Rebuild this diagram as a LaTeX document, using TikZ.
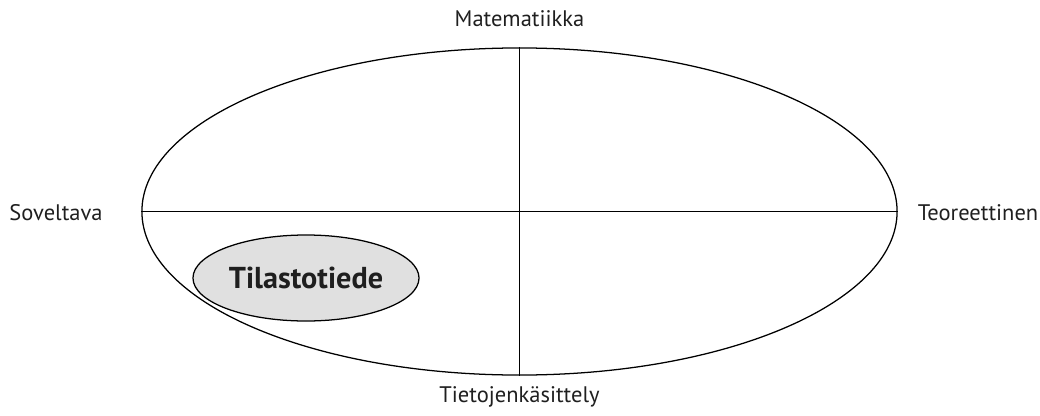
\documentclass[tikz,border=0pt]{standalone}
\usepackage{fontspec}
\setmainfont{PT Sans}
\usetikzlibrary{shapes.geometric}
\begin{document}
\begin{tikzpicture}[x=0.025cm,y=-0.025cm,every node/.style={font=\fontsize{16}{19}\selectfont,text=black!88},
    ala/.style={ellipse,draw,line width=0.9pt,inner sep=0pt}]
    \useasboundingbox (0,0) rectangle (1040,415);
    \node[ala,minimum width=18.875cm,minimum height=8.175cm] (kentta) at (519.5,211.5) {};
    \draw[line width=0.9pt] (kentta.west) -- (kentta.east);
    \draw[line width=0.9pt] (kentta.north) -- (kentta.south);
    \node[ala,fill=black!12,minimum width=5.65cm,minimum height=2.15cm,
        font=\fontsize{21.5}{25}\selectfont\bfseries] (tilasto) at (306,278) {Tilastotiede};
    \node (matematiikka) at (519.5,19) {Matematiikka};
    \node (soveltava) at (56,213) {Soveltava};
    \node (teoreettinen) at (978,213) {Teoreettinen};
    \node (tietojenkasittely) at (519.5,397) {Tietojenkäsittely};
\end{tikzpicture}
\end{document}
